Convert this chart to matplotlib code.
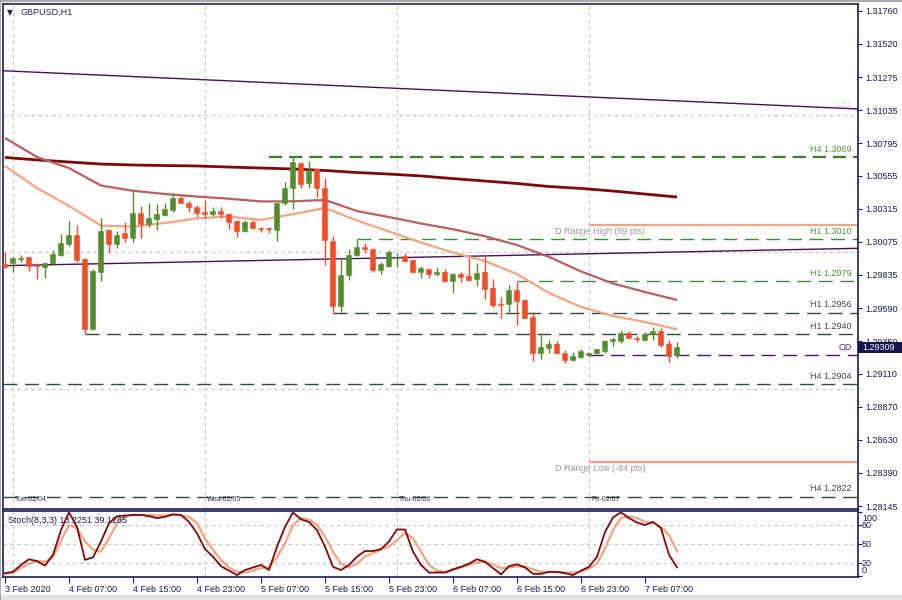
import matplotlib.pyplot as plt
from matplotlib.patches import Rectangle
from matplotlib.transforms import offset_copy
import numpy as np

plt.rcParams['font.family'] = ['Liberation Sans', 'DejaVu Sans']
plt.rcParams['lines.scale_dashes'] = False

# ---- data: GBPUSD H1 candles, 3 Feb 23:00 .. 7 Feb 11:00 ----
opens = [1.29912, 1.29918, 1.29949, 1.29961, 1.29905, 1.29893, 1.29922, 1.29978, 1.30058, 1.30124,
         1.29947, 1.29438, 1.29856, 1.30161, 1.30056, 1.30136, 1.30100, 1.30287, 1.30204, 1.30241,
         1.30270, 1.30307, 1.30396, 1.30360, 1.30326, 1.30290, 1.30275, 1.30299, 1.30275, 1.30226,
         1.30155, 1.30221, 1.30175, 1.30173, 1.30161, 1.30355, 1.30465, 1.30647, 1.30501, 1.30606,
         1.30465, 1.30080, 1.29608, 1.29832, 1.29978, 1.30034, 1.30020, 1.29869, 1.29900, 1.29954,
         1.29971, 1.29942, 1.29856, 1.29876, 1.29837, 1.29852, 1.29791, 1.29839, 1.29825, 1.29803,
         1.29852, 1.29735, 1.29620, 1.29618, 1.29723, 1.29650, 1.29528, 1.29265, 1.29301, 1.29328,
         1.29261, 1.29212, 1.29236, 1.29246, 1.29261, 1.29280, 1.29350, 1.29353, 1.29411, 1.29374,
         1.29358, 1.29399, 1.29423, 1.29328, 1.29248]
highs = [1.30000, 1.29966, 1.29978, 1.29966, 1.29922, 1.29929, 1.30015, 1.30131, 1.30226, 1.30197,
         1.29954, 1.29876, 1.30246, 1.30168, 1.30153, 1.30217, 1.30447, 1.30336, 1.30355, 1.30350,
         1.30355, 1.30433, 1.30409, 1.30374, 1.30343, 1.30380, 1.30326, 1.30326, 1.30282, 1.30234,
         1.30234, 1.30234, 1.30185, 1.30185, 1.30367, 1.30513, 1.30691, 1.30655, 1.30666, 1.30611,
         1.30538, 1.30119, 1.29954, 1.30020, 1.30095, 1.30068, 1.30027, 1.29929, 1.30015, 1.29995,
         1.29991, 1.29947, 1.29898, 1.29881, 1.29893, 1.29874, 1.29845, 1.29856, 1.29954, 1.29918,
         1.29978, 1.29801, 1.29674, 1.29759, 1.29783, 1.29655, 1.29564, 1.29407, 1.29358, 1.29353,
         1.29285, 1.29272, 1.29290, 1.29272, 1.29294, 1.29358, 1.29382, 1.29431, 1.29423, 1.29387,
         1.29418, 1.29450, 1.29443, 1.29358, 1.29340]
lows = [1.29883, 1.29856, 1.29927, 1.29864, 1.29801, 1.29812, 1.29905, 1.29971, 1.30044, 1.29929,
        1.29399, 1.29431, 1.29791, 1.29995, 1.30031, 1.30071, 1.30075, 1.30104, 1.30180, 1.30161,
        1.30265, 1.30294, 1.30355, 1.30294, 1.30258, 1.30250, 1.30265, 1.30250, 1.30168, 1.30112,
        1.30148, 1.30166, 1.30144, 1.30141, 1.30080, 1.30343, 1.30312, 1.30465, 1.30465, 1.30404,
        1.29905, 1.29553, 1.29564, 1.29796, 1.29971, 1.29991, 1.29856, 1.29839, 1.29893, 1.29893,
        1.29929, 1.29845, 1.29812, 1.29812, 1.29825, 1.29779, 1.29703, 1.29783, 1.29791, 1.29754,
        1.29655, 1.29601, 1.29516, 1.29553, 1.29467, 1.29516, 1.29207, 1.29217, 1.29265, 1.29255,
        1.29192, 1.29207, 1.29224, 1.29231, 1.29255, 1.29265, 1.29314, 1.29338, 1.29363, 1.29345,
        1.29350, 1.29358, 1.29309, 1.29199, 1.29224]
closes = [1.29891, 1.29954, 1.29956, 1.29900, 1.29898, 1.29922, 1.29983, 1.30064, 1.30124, 1.29942,
          1.29438, 1.29864, 1.30153, 1.30056, 1.30124, 1.30104, 1.30287, 1.30204, 1.30246, 1.30275,
          1.30314, 1.30396, 1.30360, 1.30326, 1.30282, 1.30275, 1.30299, 1.30275, 1.30221, 1.30155,
          1.30221, 1.30173, 1.30168, 1.30166, 1.30355, 1.30465, 1.30655, 1.30494, 1.30599, 1.30465,
          1.30088, 1.29608, 1.29832, 1.29978, 1.30034, 1.30020, 1.29869, 1.29912, 1.29998, 1.29961,
          1.29936, 1.29856, 1.29881, 1.29837, 1.29852, 1.29788, 1.29839, 1.29820, 1.29796, 1.29849,
          1.29730, 1.29613, 1.29613, 1.29723, 1.29645, 1.29520, 1.29265, 1.29304, 1.29328, 1.29261,
          1.29212, 1.29241, 1.29280, 1.29261, 1.29290, 1.29350, 1.29363, 1.29411, 1.29370, 1.29363,
          1.29401, 1.29426, 1.29321, 1.29241, 1.29309]

# moving averages, read every 4th bar
ma_bars = list(range(0, 85, 4))
ma_fast = [1.30628, 1.30467, 1.30336, 1.30193, 1.30185, 1.30212, 1.30245, 1.30259, 1.30234, 1.30277, 1.30321,
           1.30230, 1.30150, 1.30069, 1.29995, 1.29934, 1.29839, 1.29701, 1.29599, 1.29533, 1.29489, 1.29436]
ma_mid = [1.30832, 1.30693, 1.30613, 1.30485, 1.30447, 1.30423, 1.30405, 1.30389, 1.30369, 1.30370, 1.30380,
          1.30299, 1.30255, 1.30208, 1.30166, 1.30115, 1.30051, 1.29964, 1.29858, 1.29770, 1.29708, 1.29650]
ma_slow = [1.30690, 1.30672, 1.30657, 1.30642, 1.30635, 1.30631, 1.30628, 1.30620, 1.30613, 1.30606, 1.30595,
           1.30580, 1.30569, 1.30555, 1.30536, 1.30518, 1.30500, 1.30478, 1.30464, 1.30445, 1.30423, 1.30401]

# purple higher-timeframe lines (left edge, right edge)
htf_upper = [1.31323, 1.31044]
htf_lower = [1.29900, 1.30027]

# stochastic %K / %D
stoch_k = [4, 6, 17, 26, 23, 16, 33, 72, 100, 77, 25, 29, 54, 83, 94, 95, 96, 96, 94, 91,
           93, 97, 96, 85, 67, 42, 30, 15, 8, 1, 9, 13, 17, 9, 46, 77, 100, 89, 85, 72,
           46, 14, 9, 17, 30, 39, 39, 42, 54, 73, 73, 38, 17, 5, 5, 5, 10, 14, 19, 26,
           22, 12, 2, 15, 18, 13, 3, 3, 6, 6, 4, 1, 8, 14, 30, 69, 92, 100, 91, 84,
           80, 85, 75, 33, 13.2251]
stoch_d = [3, 5, 12, 19, 23, 22, 29, 56, 80, 75, 54, 41, 38, 59, 83, 93, 96, 96, 96, 95,
           95, 96, 95, 93, 83, 59, 41, 25, 13, 6, 5, 8, 12, 14, 29, 51, 80, 91, 89, 80,
           62, 38, 19, 13, 19, 30, 36, 41, 46, 56, 68, 59, 38, 17, 8, 6, 9, 13, 17, 21,
           22, 18, 12, 13, 15, 14, 10, 6, 6, 6, 5, 5, 6, 12, 19, 43, 72, 91, 94, 91,
           85, 84, 77, 64, 39.1285]

# horizontal levels: (label, price, start bar, colour kind)
levels = [('H4 1.3069', 1.30693, 33, 'h4green'),
          ('H1 1.3010', 1.30095, 44, 'green'),
          ('H1 1.2979', 1.29788, 64, 'green'),
          ('H1 1.2956', 1.29555, 41, 'dark'),
          ('H1 1.2940', 1.29401, 10, 'dark'),
          ('H4 1.2904', 1.29036, -0.25, 'dark'),
          ('H4 1.2822', 1.28212, -0.25, 'dark')]
open_day = 1.29248
range_high = 1.30197
range_low = 1.28467

price_ticks = [1.31760, 1.31520, 1.31275, 1.31035, 1.30795, 1.30555, 1.30315, 1.30075,
               1.29835, 1.29590, 1.29350, 1.29110, 1.28870, 1.28630, 1.28390, 1.28145]
time_labels = ['3 Feb 2020', '4 Feb 07:00', '4 Feb 15:00', '4 Feb 23:00', '5 Feb 07:00', '5 Feb 15:00',
               '5 Feb 23:00', '6 Feb 07:00', '6 Feb 15:00', '6 Feb 23:00', '7 Feb 07:00']
day_bars = [1, 25, 49, 73]
day_labels = ['Tue-02/04', 'Wed-02/05', 'Thu-02/06', 'Fri-02/07']

# ---- colours ----
navy = '#1c1c55'
bull = '#548c2f'
bear = '#ee4f2a'
grid_c = '#c8c8c8'
fast_c = '#f2a582'
mid_c = '#b8605e'
slow_c = '#7d0a0a'
purple = '#4a0f57'

W, H = 903, 600
fig = plt.figure(figsize=(W / 100, H / 100), dpi=100)
fig.patch.set_facecolor('white')


def fx(px):
    return px / W


def fy(py):
    return 1 - py / H


ax = fig.add_axes([fx(3), fy(509), fx(858) - fx(3), fy(4) - fy(509)])
st = fig.add_axes([fx(3), fy(577), fx(858) - fx(3), fy(511) - fy(577)])

x_left, x_right = -0.25, 106.625
n = len(opens)
xs = np.arange(n)

for a in (ax, st):
    a.set_xlim(x_left, x_right)
    for sp in a.spines.values():
        sp.set_color(navy)
        sp.set_linewidth(1.2)
    a.set_facecolor('white')
    # day separators
    for b in day_bars:
        a.axvline(b, color=grid_c, lw=0.9, ls=(0, (2.5, 2.5)), zorder=0)

ax.set_ylim(1.281241, 1.318102)
st.set_ylim(-2.05, 102.2)

# price grid
for g in (1.31, 1.30, 1.29):
    ax.axhline(g, color=grid_c, lw=0.9, ls=(0, (2.5, 2.5)), zorder=0)

# purple htf lines
ax.plot([x_left, x_right], htf_upper, color=purple, lw=1.0, zorder=2)
ax.plot([x_left, x_right], htf_lower, color=purple, lw=1.0, zorder=2)
ax.text(104.8, htf_upper[1], '1.31', color='#d4d4d4', fontsize=6.5, ha='center', va='bottom')

# moving averages
ax.plot(ma_bars, ma_slow, color=slow_c, lw=2.0, zorder=3, solid_capstyle='butt')
ax.plot(ma_bars, ma_mid, color=mid_c, lw=1.6, zorder=3, solid_capstyle='butt')
ax.plot(ma_bars, ma_fast, color=fast_c, lw=1.6, zorder=3, solid_capstyle='butt')

# level lines
lvl_style = {'h4green': ('#3d7f2f', 1.6, (9.5, 5)),
             'green': ('#3f8a3a', 1.0, (10, 5.5)),
             'dark': ('#2f4a40', 1.0, (10, 5.5))}
txt_col = {'h4green': '#4a9a3a', 'green': '#4a9a3a', 'dark': '#404848'}
lab_x = (852 - 5) / 8
for lab, p, b0, kind in levels:
    c, lw, dash = lvl_style[kind]
    ax.plot([b0, x_right], [p, p], color=c, lw=lw, ls=(0, dash), zorder=2)
    ax.annotate(lab, (lab_x, p), xytext=(0, 2.5), textcoords='offset points',
                ha='right', va='bottom', fontsize=6.5, color=txt_col[kind])

# open of day
ax.plot([day_bars[-1], x_right], [open_day, open_day], color='#4b1466', lw=1.0,
        ls=(0, (10, 5.5)), zorder=2)
ax.annotate('OD', (lab_x, open_day), xytext=(0, 2.5), textcoords='offset points',
            ha='right', va='bottom', fontsize=6.5, color='#5a2a7a')

# daily range lines
for p, lab in ((range_high, 'D Range High (89 pts)'), (range_low, 'D Range Low (-84 pts)')):
    ax.plot([day_bars[-1] + 0.1, x_right], [p, p], color=fast_c, lw=1.6, zorder=2)
    ax.annotate(lab, (74.4, p), xytext=(0, -1.5), textcoords='offset points',
                ha='center', va='top', fontsize=6.5, color='#9a9a9a')

# candles
body_w = 0.625
colors = [bull if c >= o else bear for o, c in zip(opens, closes)]
ax.vlines(xs, lows, highs, colors=colors, lw=1.0, zorder=4)
bottoms = np.minimum(opens, closes)
heights = np.maximum(np.abs(np.array(closes) - np.array(opens)), 0.00007)
ax.bar(xs, heights, bottom=bottoms, width=body_w, color=colors, edgecolor=colors,
       linewidth=0.4, zorder=5)

# price axis
ax.yaxis.tick_right()
ax.set_yticks(price_ticks)
ax.set_yticklabels(['%.5f' % t for t in price_ticks])
ax.tick_params(axis='y', direction='out', length=3, width=0.8, color=navy,
               labelcolor=navy, labelsize=6.5, pad=2)
ax.set_xticks([])

# day labels
for b, lab in zip(day_bars, day_labels):
    ax.annotate(lab, (b, 1.2817), xytext=(1.5, 0), textcoords='offset points',
                ha='left', va='bottom', fontsize=5, color='#303040')

ax.text(fx(20) / (fx(858) - fx(3)) - 0.003, 0.983, 'GBPUSD,H1', transform=ax.transAxes,
        fontsize=6.5, color='#2a2a50', ha='left', va='center')
ax.text(0.008, 0.983, '\u25bc', transform=ax.transAxes, fontsize=5.5, color='#2a2a50',
        ha='center', va='center', family='DejaVu Sans')

# stochastic panel
for lv in (20, 50, 80):
    st.axhline(lv, color=grid_c, lw=0.9, ls=(0, (2.5, 2.5)), zorder=0)
st.plot(xs, stoch_d, color=fast_c, lw=1.6, zorder=3)
st.plot(xs, stoch_k, color=slow_c, lw=1.3, zorder=4)
st.text(0.006, 0.86, 'Stoch(8,3,3) 13.2251 39.1285', transform=st.transAxes,
        fontsize=6.5, color=navy, ha='left', va='center')
st.yaxis.tick_right()
st.set_yticks([0, 20, 50, 80, 100])
st.set_yticklabels([])
st.tick_params(axis='y', direction='out', length=3, width=0.8, color=navy)
tr = st.get_yaxis_transform()
for v, lab in ((91, '100'), (80, '80'), (50, '50'), (20, '20'), (9, '0')):
    st.text(1.0045, v, lab, transform=tr, fontsize=6.5, color=navy, ha='left', va='center')

st.set_xticks(list(range(0, 81, 8)))
st.set_xticklabels(time_labels)
st.tick_params(axis='x', direction='out', length=4, width=0.8, color=navy,
               labelcolor=navy, labelsize=6.5, pad=1.5)
for t in st.get_xticklabels():
    t.set_ha('left')

# current price marker
fig.patches.append(Rectangle((fx(858), fy(352.5)), fx(903) - fx(858), fy(341.5) - fy(352.5),
                             transform=fig.transFigure, facecolor='#141450', edgecolor='none', zorder=5))
fig.text(fx(862), fy(347), '%.5f' % closes[-1], color='white', fontsize=6.5,
         ha='left', va='center', zorder=6)

# outer frame bits
fig.patches.append(Rectangle((0, 0), 1, fy(595), transform=fig.transFigure,
                             facecolor='#e2e2e2', edgecolor='none', zorder=0))
fig.patches.append(Rectangle((0, 0), fx(1.5), 1, transform=fig.transFigure,
                             facecolor='#a8a8a8', edgecolor='none', zorder=0))
fig.patches.append(Rectangle((0, fy(1.5)), 1, 1 - fy(1.5), transform=fig.transFigure,
                             facecolor='#a8a8a8', edgecolor='none', zorder=0))

fig.savefig('out.png', dpi=100)
